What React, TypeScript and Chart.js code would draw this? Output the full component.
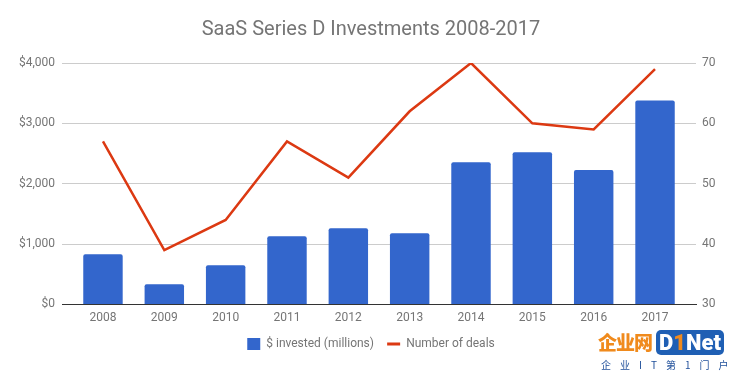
import React, { useEffect, useRef } from "react";
import { Chart, registerables } from "chart.js";

Chart.register(...registerables);

const years = ["2008", "2009", "2010", "2011", "2012", "2013", "2014", "2015", "2016", "2017"];
const invested = [830, 335, 650, 1130, 1260, 1180, 2355, 2520, 2225, 3380];
const deals = [57, 39, 44, 57, 51, 62, 70, 60, 59, 69];
const leftTicks = [0, 1000, 2000, 3000, 4000];
const rightTicks = [30, 40, 50, 60, 70];

const TEXT = "#757575";
const BLUE = "#3366cc";
const RED = "#dc3912";

export default function App() {
  const ref = useRef<HTMLCanvasElement | null>(null);

  useEffect(() => {
    if (!ref.current) return;
    Chart.defaults.font.family = "Roboto";
    const chart = new Chart(ref.current, {
      type: "bar",
      data: {
        datasets: [
          {
            type: "line",
            label: "Number of deals",
            data: deals.map((v, i) => ({ x: i, y: v })),
            borderColor: RED,
            backgroundColor: RED,
            borderWidth: 2.5,
            pointRadius: 0,
            tension: 0,
            yAxisID: "y1",
            order: 0,
          },
          {
            type: "bar",
            label: "$ invested (millions)",
            data: invested.map((v, i) => ({ x: i, y: v })),
            backgroundColor: BLUE,
            borderRadius: 2,
            borderSkipped: "bottom",
            categoryPercentage: 1,
            barPercentage: 0.643,
            yAxisID: "y",
            order: 1,
          },
        ],
      },
      options: {
        responsive: false,
        animation: false,
        maintainAspectRatio: false,
        layout: { padding: { bottom: 11 } },
        plugins: {
          title: {
            display: true,
            text: "SaaS Series D Investments 2008-2017",
            color: TEXT,
            font: { size: 20, weight: "normal" },
            padding: { top: 18, bottom: 21 },
          },
          legend: {
            position: "bottom",
            labels: {
              color: TEXT,
              font: { size: 12 },
              boxWidth: 13,
              boxHeight: 13,
              usePointStyle: true,
              pointStyleWidth: 13,
              padding: 7.2,
              generateLabels: () => [
                {
                  text: "$ invested (millions)  ",
                  fillStyle: BLUE,
                  strokeStyle: BLUE,
                  lineWidth: 0,
                  pointStyle: "rect",
                  datasetIndex: 1,
                  fontColor: TEXT,
                  hidden: false,
                },
                {
                  text: "Number of deals",
                  fillStyle: RED,
                  strokeStyle: RED,
                  lineWidth: 3,
                  pointStyle: "line",
                  datasetIndex: 0,
                  fontColor: TEXT,
                  hidden: false,
                },
              ],
            },
          },
          tooltip: { enabled: false },
        },
        scales: {
          x: {
            type: "linear",
            offset: false,
            min: -0.668,
            max: 9.668,
            grid: { display: false, drawTicks: false, offset: false },
            border: { display: true, color: "#333", width: 1 },
            afterBuildTicks: (s: any) => {
              s.ticks = years.map((_, i) => ({ value: i }));
            },
            ticks: {
              color: TEXT,
              font: { size: 12 },
              padding: 6,
              autoSkip: false,
              maxRotation: 0,
              callback: (v: any) => years[Math.round(Number(v))] ?? "",
            },
          },
          y: {
            position: "left",
            min: 0,
            max: 4000,
            afterBuildTicks: (s: any) => {
              s.ticks = leftTicks.map((v) => ({ value: v }));
            },
            afterFit: (s: any) => {
              s.width = 62;
            },
            grid: {
              color: (c: any) => (c.tick && c.tick.value === 0 ? "#333" : "#cccccc"),
              drawTicks: false,
            },
            border: { display: false },
            ticks: {
              color: TEXT,
              font: { size: 12 },
              padding: 7,
              callback: (v: any) => "$" + Number(v).toLocaleString("en-US"),
            },
          },
          y1: {
            position: "right",
            min: 30,
            max: 70,
            afterBuildTicks: (s: any) => {
              s.ticks = rightTicks.map((v) => ({ value: v }));
            },
            afterFit: (s: any) => {
              s.width = 46;
            },
            grid: { drawOnChartArea: false, drawTicks: false },
            border: { display: false },
            ticks: {
              color: TEXT,
              font: { size: 12 },
              padding: 6,
            },
          },
        },
      },
    });
    return () => chart.destroy();
  }, []);

  return (
    <div style={{ position: "fixed", left: 0, top: 0, width: 742, height: 371, background: "#fff" }}>
      <canvas ref={ref} width={742} height={371} style={{ display: "block" }} />
      <div
        style={{
          position: "absolute",
          left: 598,
          top: 329,
          width: 144,
          fontFamily: "'Noto Sans CJK SC', sans-serif",
          pointerEvents: "none",
          whiteSpace: "nowrap",
        }}
      >
        <div style={{ display: "flex", alignItems: "center", height: 26, whiteSpace: "nowrap" }}>
          <span style={{ color: "#f08a1c", fontWeight: 900, fontSize: 19, lineHeight: "26px", letterSpacing: -1 }}>企业网</span>
          <span
            style={{
              marginLeft: 4,
              background: "#1f5fb4",
              color: "#fff",
              fontFamily: "Roboto, sans-serif",
              fontWeight: 900,
              fontSize: 22,
              lineHeight: "25px",
              padding: "0 3px",
              borderRadius: 5,
            }}
          >
            D<span style={{ color: "#f08a1c" }}>1</span>Net
          </span>
        </div>
        <div style={{ fontSize: 10, color: "#1f4f9a", letterSpacing: 9, marginTop: 4, marginLeft: 3, lineHeight: "12px" }}>
          企业IT第1门户
        </div>
      </div>
    </div>
  );
}
